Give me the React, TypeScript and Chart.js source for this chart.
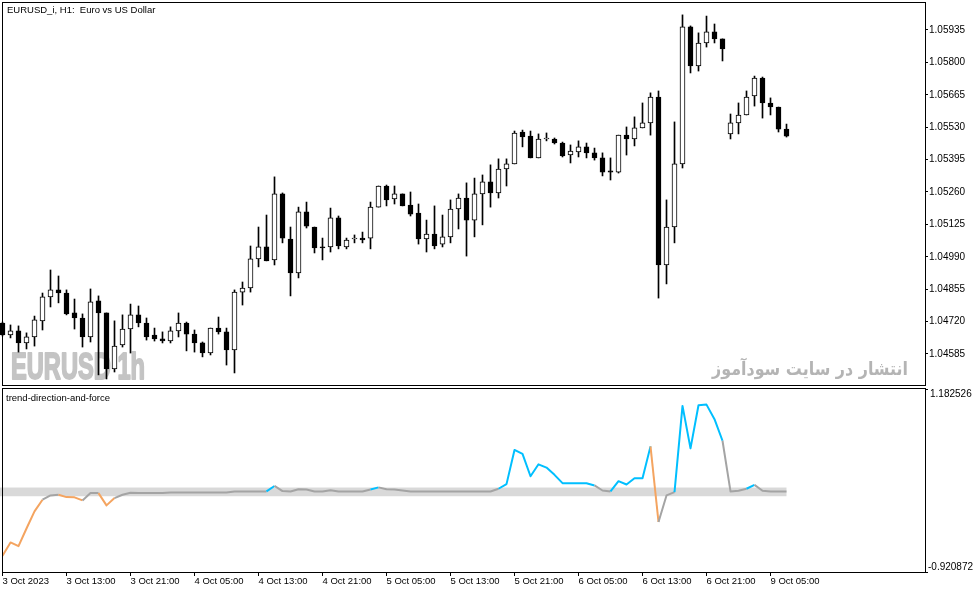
import { useEffect, useRef } from "react";
import { Chart, registerables } from "chart.js";

Chart.register(...registerables);

// EURUSD H1, bars 3 Oct 2023 05:00 .. 9 Oct 2023 07:00 (bar index = x)
const open = [
  1.04714, 1.04664, 1.04681, 1.04631, 1.04656, 1.04723, 1.04823, 1.04852, 1.04839, 1.04756,
  1.04735, 1.04656, 1.04806, 1.04756, 1.04523, 1.04623, 1.04689, 1.04748, 1.04714, 1.04664,
  1.04648, 1.04639, 1.04681, 1.04714, 1.04668, 1.04631, 1.04589, 1.04693, 1.04677, 1.04602,
  1.04843, 1.0486, 1.04981, 1.05031, 1.04977, 1.05252, 1.05064, 1.04923, 1.05177, 1.05114,
  1.05031, 1.05031, 1.05152, 1.05031, 1.05064, 1.05068, 1.05068, 1.05197, 1.05285, 1.05231,
  1.05252, 1.05206, 1.05172, 1.05064, 1.05085, 1.05043, 1.05073, 1.05189, 1.05235, 1.05143,
  1.05252, 1.05302, 1.05256, 1.05356, 1.05377, 1.0551, 1.05493, 1.05402, 1.05481, 1.05481,
  1.05464, 1.05414, 1.05427, 1.05448, 1.05423, 1.05402, 1.05348, 1.05343, 1.05497, 1.05481,
  1.05527, 1.05548, 1.05656, 1.04956, 1.05114, 1.05377, 1.05948, 1.05785, 1.05881, 1.05927,
  1.05898, 1.05502, 1.05548, 1.05581, 1.0566, 1.05735, 1.05631, 1.05614, 1.05522,
];
const high = [
  1.04718, 1.04706, 1.04702, 1.04673, 1.04743, 1.04839, 1.04935, 1.0491, 1.04852, 1.04814,
  1.04752, 1.04856, 1.04827, 1.04756, 1.04723, 1.04748, 1.04793, 1.04785, 1.04735, 1.04693,
  1.04677, 1.04698, 1.04756, 1.04718, 1.04685, 1.04635, 1.04693, 1.04739, 1.04693, 1.04852,
  1.04885, 1.05035, 1.05114, 1.05164, 1.05323, 1.05256, 1.05114, 1.05197, 1.05218, 1.05114,
  1.05068, 1.05193, 1.0516, 1.05068, 1.05081, 1.05093, 1.05218, 1.05285, 1.05289, 1.05285,
  1.05252, 1.0526, 1.0521, 1.05143, 1.05202, 1.05164, 1.05227, 1.05252, 1.05298, 1.05318,
  1.05331, 1.05373, 1.05398, 1.05398, 1.05514, 1.05518, 1.05514, 1.05502, 1.05506, 1.05485,
  1.05468, 1.05456, 1.05473, 1.05464, 1.05443, 1.05423, 1.05402, 1.05497, 1.05531, 1.05573,
  1.05631, 1.05673, 1.05681, 1.05227, 1.05552, 1.05998, 1.05952, 1.05923, 1.05993, 1.0596,
  1.05898, 1.05585, 1.05631, 1.05681, 1.05743, 1.05739, 1.05652, 1.05614, 1.05543,
];
const low = [
  1.0466, 1.04652, 1.04593, 1.04606, 1.04618, 1.04685, 1.04781, 1.04798, 1.04748, 1.04689,
  1.04614, 1.04635, 1.04498, 1.04481, 1.0451, 1.04614, 1.04589, 1.04698, 1.04643, 1.04639,
  1.04631, 1.04631, 1.04656, 1.04598, 1.04593, 1.04573, 1.04581, 1.04668, 1.04539, 1.04506,
  1.04789, 1.04843, 1.04948, 1.04973, 1.04956, 1.05048, 1.04827, 1.04902, 1.0511, 1.05006,
  1.04977, 1.0501, 1.05023, 1.05023, 1.05048, 1.05048, 1.05023, 1.05197, 1.05202, 1.0521,
  1.05202, 1.0516, 1.05043, 1.0501, 1.05023, 1.05031, 1.05048, 1.05106, 1.04993, 1.05073,
  1.05123, 1.05197, 1.05235, 1.05285, 1.05377, 1.05448, 1.05402, 1.05402, 1.05473, 1.0546,
  1.05406, 1.05381, 1.05406, 1.05402, 1.05393, 1.05327, 1.0531, 1.05339, 1.05414, 1.05452,
  1.05527, 1.05497, 1.04818, 1.04877, 1.05048, 1.0536, 1.05756, 1.05764, 1.05864, 1.05881,
  1.05806, 1.05481, 1.05502, 1.05581, 1.05618, 1.05568, 1.05581, 1.0551, 1.05489,
];
const close = [
  1.04664, 1.04681, 1.04631, 1.04656, 1.04727, 1.04823, 1.04852, 1.04839, 1.04752, 1.04735,
  1.04656, 1.04802, 1.04756, 1.04523, 1.04618, 1.04689, 1.04748, 1.04714, 1.04656, 1.04648,
  1.04639, 1.04681, 1.04714, 1.04668, 1.04631, 1.04589, 1.04693, 1.04677, 1.04602, 1.04843,
  1.0486, 1.04981, 1.05031, 1.04973, 1.05252, 1.05068, 1.04923, 1.05177, 1.05118, 1.05027,
  1.05027, 1.05152, 1.05035, 1.0506, 1.05064, 1.0506, 1.05197, 1.05285, 1.05227, 1.05252,
  1.05202, 1.05168, 1.05064, 1.05085, 1.05035, 1.05073, 1.05189, 1.05235, 1.05143, 1.05252,
  1.05302, 1.05256, 1.05356, 1.05377, 1.05506, 1.05489, 1.05402, 1.05481, 1.05481, 1.05464,
  1.0541, 1.05431, 1.05448, 1.05423, 1.05402, 1.05343, 1.05343, 1.05497, 1.05481, 1.05527,
  1.05548, 1.05656, 1.04956, 1.05114, 1.05377, 1.05948, 1.05785, 1.05881, 1.05927, 1.05898,
  1.05856, 1.05548, 1.05581, 1.05656, 1.05735, 1.05631, 1.05614, 1.05522, 1.05493,
];

// trend-direction-and-force values, one per bar
const tdf = [
  -0.735, -0.581, -0.624, -0.421, -0.224, -0.09, -0.041, -0.033, -0.06, -0.063,
  -0.098, -0.014, -0.014, -0.155, -0.071, -0.033, -0.01, -0.014, -0.014, -0.014,
  -0.014, -0.006, -0.006, -0.006, -0.006, -0.006, -0.006, -0.006, -0.006, 0.005,
  0.005, 0.005, 0.005, 0.005, 0.068, 0.009, 0.005, 0.031, 0.028, 0.005,
  0.005, 0.02, 0.005, 0.005, 0.005, 0.005, 0.028, 0.052, 0.031, 0.028,
  0.016, 0.005, 0.005, 0.005, 0.005, 0.005, 0.005, 0.005, 0.005, 0.005,
  0.005, 0.005, 0.036, 0.089, 0.482, 0.436, 0.18, 0.317, 0.279, 0.196,
  0.1, 0.1, 0.1, 0.1, 0.074, 0.016, 0.005, 0.123, 0.085, 0.157,
  0.157, 0.523, -0.346, -0.041, -0.003, 0.988, 0.5, 0.996, 1.003, 0.836,
  0.588, 0.005, 0.013, 0.036, 0.081, 0.013, 0.005, 0.005, 0.005,
];

const timeTicks = [0, 8, 16, 24, 32, 40, 48, 56, 64, 72, 80, 88, 96];
const timeLabels = [
  "3 Oct 2023", "3 Oct 13:00", "3 Oct 21:00", "4 Oct 05:00", "4 Oct 13:00",
  "4 Oct 21:00", "5 Oct 05:00", "5 Oct 13:00", "5 Oct 21:00", "6 Oct 05:00",
  "6 Oct 13:00", "6 Oct 21:00", "9 Oct 05:00",
];
const priceTicks = [
  1.04585, 1.0472, 1.04855, 1.0499, 1.05125, 1.0526, 1.05395, 1.0553, 1.05665, 1.058, 1.05935,
];
const priceMin = 1.044558;
const priceMax = 1.060475;
const tdfMin = -0.920872;
const tdfMax = 1.182526;
const upperLevel = 0.05;
const lowerLevel = -0.05;

const xMin = 0.0625;
const xMax = 115.3125;

const FONT = "'Liberation Sans', Arial, sans-serif";
const BLUE = "#00BFFF";
const ORANGE = "#F4A460";
const GREY = "#A4A4A4";

const trendColor = (v: number) => (v > upperLevel ? BLUE : v < lowerLevel ? ORANGE : GREY);

const fixAxis = (w: number | null, h: number | null) => (s: any) => {
  if (w !== null) s.width = w;
  if (h !== null) s.height = h;
  s.paddingLeft = 0;
  s.paddingRight = 0;
  s.paddingTop = 0;
  s.paddingBottom = 0;
};

const framePlugin = {
  id: "frame",
  afterDraw(chart: any) {
    const { ctx, chartArea: a } = chart;
    ctx.save();
    ctx.strokeStyle = "#000";
    ctx.lineWidth = 1;
    ctx.strokeRect(a.left - 0.5, a.top - 0.5, a.right - a.left + 1, a.bottom - a.top + 1);
    ctx.restore();
  },
};

const priceTextPlugin = {
  id: "priceText",
  beforeDatasetsDraw(chart: any) {
    const { ctx, chartArea: a } = chart;
    ctx.save();
    // heavy condensed watermark
    ctx.fillStyle = "#c4c4c4";
    ctx.strokeStyle = "#c4c4c4";
    ctx.lineWidth = 2;
    ctx.lineJoin = "round";
    ctx.font = `bold 37px ${FONT}`;
    ctx.textBaseline = "alphabetic";
    ctx.textAlign = "left";
    ctx.fillText("EURUSD 1h", a.left + 8, 379, 134);
    ctx.strokeText("EURUSD 1h", a.left + 8, 379, 134);
    ctx.fillStyle = "#b4b4b4";
    ctx.font = "bold 18px 'DejaVu Sans', sans-serif";
    ctx.textAlign = "right";
    ctx.fillText("انتشار در سایت سودآموز", 908, 375, 196);
    ctx.restore();
  },
  afterDraw(chart: any) {
    const { ctx } = chart;
    ctx.save();
    ctx.fillStyle = "#000";
    ctx.font = `9.5px ${FONT}`;
    ctx.textBaseline = "middle";
    ctx.textAlign = "left";
    ctx.fillText("EURUSD_i, H1:  Euro vs US Dollar", 7, 10);
    ctx.restore();
  },
};

const tdfTextPlugin = {
  id: "tdfText",
  beforeDatasetsDraw(chart: any) {
    const { ctx, chartArea: a, scales } = chart;
    const top = scales.y.getPixelForValue(upperLevel);
    const bottom = scales.y.getPixelForValue(lowerLevel);
    const right = scales.x.getPixelForValue(tdf.length - 1);
    ctx.save();
    ctx.fillStyle = "#d9d9d9";
    ctx.fillRect(a.left - 3, top, right - a.left + 3, bottom - top);
    ctx.restore();
  },
  afterDraw(chart: any) {
    const { ctx, chartArea: a } = chart;
    ctx.save();
    ctx.fillStyle = "#000";
    ctx.font = `9.5px ${FONT}`;
    ctx.textAlign = "left";
    ctx.textBaseline = "middle";
    ctx.fillText("trend-direction-and-force", a.left + 3, a.top + 9);
    ctx.font = `10px ${FONT}`;
    ctx.textBaseline = "top";
    ctx.fillText(tdfMax.toFixed(6), a.right + 5, a.top);
    ctx.textBaseline = "bottom";
    ctx.fillText(tdfMin.toFixed(6), a.right + 3, a.bottom);
    ctx.restore();
  },
};

function priceConfig(): any {
  const bodies = open.map((o, i) => ({ x: i, y: [o, close[i]] }));
  const wicks = low.map((l, i) => ({ x: i, y: [l, high[i]] }));
  const fills = open.map((o, i) => (close[i] >= o ? "#ffffff" : "#000000"));
  return {
    type: "bar",
    data: {
      datasets: [
        {
          data: bodies,
          backgroundColor: fills,
          borderColor: "#000",
          borderWidth: 1,
          borderSkipped: false,
          barThickness: 5,
          minBarLength: 1,
          grouped: false,
          clip: false,
          order: 1,
        },
        {
          data: wicks,
          backgroundColor: "#000",
          borderWidth: 0,
          barThickness: 1,
          grouped: false,
          clip: false,
          order: 2,
        },
      ],
    },
    options: {
      animation: false,
      responsive: true,
      maintainAspectRatio: false,
      events: [],
      layout: { padding: { left: 3, top: 3, right: 0, bottom: 2 } },
      plugins: { legend: { display: false }, tooltip: { enabled: false } },
      scales: {
        x: {
          type: "linear",
          min: xMin,
          max: xMax,
          offset: false,
          grid: { offset: false },
          display: false,
        },
        y: {
          position: "right",
          min: priceMin,
          max: priceMax,
          afterBuildTicks: (s: any) => {
            s.ticks = priceTicks.map((v) => ({ value: v }));
          },
          afterFit: fixAxis(54, null),
          border: { display: false },
          grid: { drawOnChartArea: false, tickLength: 3, color: "#000" },
          ticks: {
            padding: 1,
            color: "#000",
            font: { family: FONT, size: 10 },
            callback: (v: number) => v.toFixed(5),
          },
        },
      },
    },
    plugins: [priceTextPlugin, framePlugin],
  };
}

function tdfConfig(): any {
  return {
    type: "line",
    data: {
      datasets: [
        {
          data: tdf.map((v, i) => ({ x: i, y: v })),
          borderColor: GREY,
          borderWidth: 2,
          pointRadius: 0,
          tension: 0,
          borderJoinStyle: "round",
          segment: { borderColor: (c: any) => trendColor(c.p1.parsed.y) },
        },
      ],
    },
    options: {
      animation: false,
      responsive: true,
      maintainAspectRatio: false,
      events: [],
      layout: { padding: { left: 3, top: 2, right: 0, bottom: 0 } },
      plugins: { legend: { display: false }, tooltip: { enabled: false } },
      scales: {
        x: {
          type: "linear",
          min: xMin,
          max: xMax,
          offset: false,
          afterBuildTicks: (s: any) => {
            s.ticks = timeTicks.map((v) => ({ value: v }));
          },
          afterFit: fixAxis(null, 21),
          border: { display: false },
          grid: { drawOnChartArea: false, tickLength: 4, color: "#000" },
          ticks: {
            autoSkip: false,
            maxRotation: 0,
            align: "start",
            padding: 0,
            color: "#000",
            font: { family: FONT, size: 9.5 },
            callback: (_v: number, i: number) => timeLabels[i],
          },
        },
        y: {
          position: "right",
          min: tdfMin,
          max: tdfMax,
          afterBuildTicks: (s: any) => {
            s.ticks = [{ value: tdfMin }, { value: tdfMax }];
          },
          afterFit: fixAxis(54, null),
          border: { display: false },
          grid: { drawOnChartArea: false, tickLength: 3, color: "#000" },
          ticks: { display: false },
        },
      },
    },
    plugins: [tdfTextPlugin, framePlugin],
  };
}

export default function App() {
  const priceRef = useRef<HTMLCanvasElement>(null);
  const tdfRef = useRef<HTMLCanvasElement>(null);

  useEffect(() => {
    if (!priceRef.current || !tdfRef.current) return;
    const priceChart = new Chart(priceRef.current, priceConfig());
    const tdfChart = new Chart(tdfRef.current, tdfConfig());
    return () => {
      priceChart.destroy();
      tdfChart.destroy();
    };
  }, []);

  return (
    <div style={{ position: "absolute", left: 0, top: 0, width: 979, height: 593, background: "#fff" }}>
      <div style={{ position: "absolute", left: 0, top: 0, width: 979, height: 387 }}>
        <canvas ref={priceRef} />
      </div>
      <div style={{ position: "absolute", left: 0, top: 387, width: 979, height: 206 }}>
        <canvas ref={tdfRef} />
      </div>
    </div>
  );
}
